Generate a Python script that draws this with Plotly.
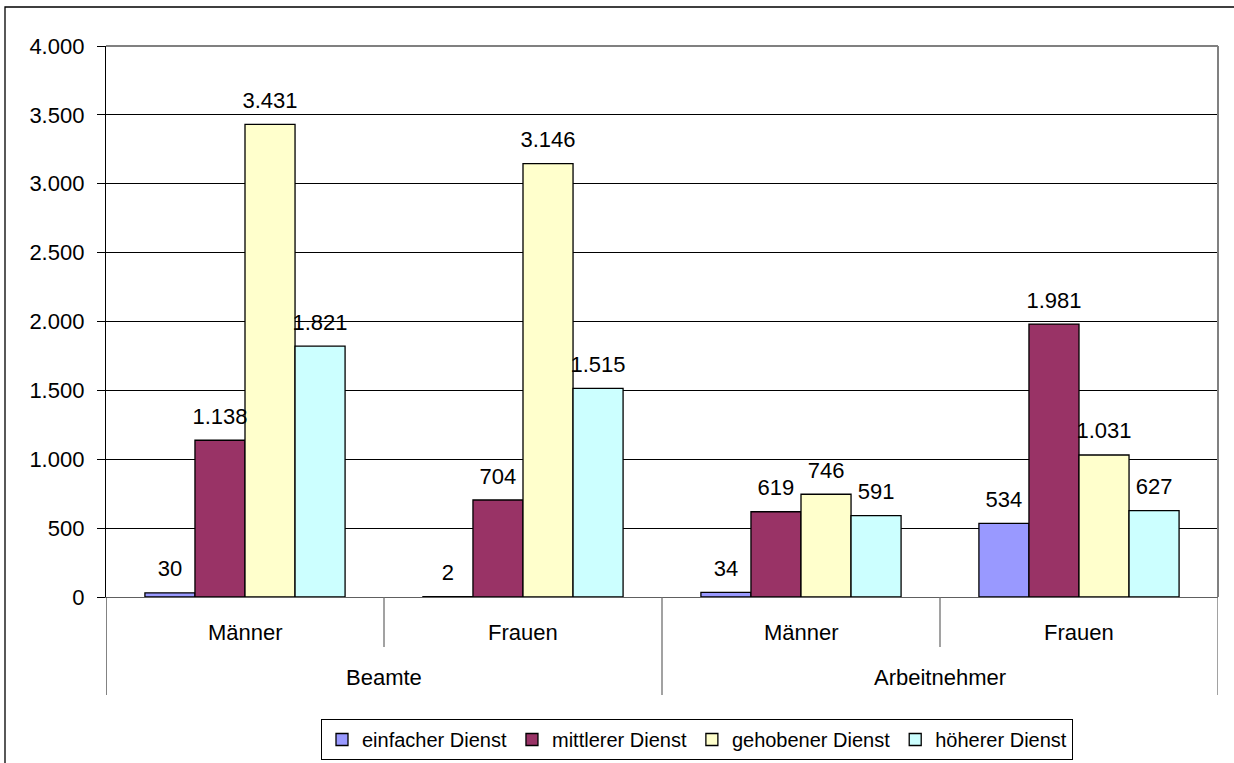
import plotly.graph_objects as go

# Data
inner_labels = ["Männer", "Frauen", "Männer", "Frauen"]
group_labels = ["Beamte", "Arbeitnehmer"]
series_names = ["einfacher Dienst", "mittlerer Dienst", "gehobener Dienst", "höherer Dienst"]
einfacher = [30, 2, 34, 534]
mittlerer = [1138, 704, 619, 1981]
gehobener = [3431, 3146, 746, 1031]
hoeherer = [1821, 1515, 591, 627]
colors = ["#9999FF", "#993366", "#FFFFCC", "#CCFFFF"]
y_ticks = [0, 500, 1000, 1500, 2000, 2500, 3000, 3500, 4000]

series = [einfacher, mittlerer, gehobener, hoeherer]
xpos = list(range(len(inner_labels)))
FONT = "Arial, Liberation Sans, sans-serif"
FS = 22

W, H = 1234, 763
L, T = 106, 46
pw, ph = 1112, 551
R = W - L - pw
B = H - T - ph

def py(pix):
    return (T + ph - pix) / ph

def px(pix):
    return (pix - L) / pw

fig = go.Figure()
for name, vals, col in zip(series_names, series, colors):
    fig.add_trace(go.Bar(
        x=xpos, y=vals, name=name,
        marker=dict(color=col, line=dict(color="black", width=1.3)),
        offsetgroup=name,
    ))
for name, vals in zip(series_names, series):
    fig.add_trace(go.Scatter(
        x=xpos, y=vals, mode="markers+text", showlegend=False,
        text=[f"{v:,}".replace(",", ".") for v in vals],
        textposition="top center",
        textfont=dict(size=FS, color="black", family=FONT),
        marker=dict(size=16, opacity=0),
        offsetgroup=name, hoverinfo="skip", cliponaxis=False,
    ))

shapes = []
# outer chart border
shapes.append(dict(type="rect", xref="paper", yref="paper",
                   x0=px(5), x1=px(1260), y0=py(790), y1=py(7),
                   line=dict(color="black", width=1.3), layer="below"))
# plot area top/right border
shapes.append(dict(type="line", xref="paper", yref="paper", x0=0, x1=1, y0=1, y1=1,
                   line=dict(color="#808080", width=2)))
shapes.append(dict(type="line", xref="paper", yref="paper", x0=1, x1=1, y0=0, y1=1,
                   line=dict(color="#808080", width=2)))
# category separators
for i in range(len(inner_labels) + 1):
    xb = i - 0.5
    long = (i % 2 == 0)
    shapes.append(dict(type="line", xref="x", yref="paper", x0=xb, x1=xb,
                       y0=0, y1=py(695 if long else 647),
                       line=dict(color="#707070" if i > 0 else "#404040", width=1.3)))

annotations = []
for i, lab in enumerate(inner_labels):
    annotations.append(dict(x=i, y=py(632), xref="x", yref="paper", text=lab,
                            yanchor="middle", xanchor="center",
                            showarrow=False, font=dict(size=FS, family=FONT, color="black")))
for g, lab in enumerate(group_labels):
    annotations.append(dict(x=2 * g + 0.5, y=py(677), xref="x", yref="paper", text=lab,
                            yanchor="middle", xanchor="center",
                            showarrow=False, font=dict(size=FS, family=FONT, color="black")))

fig.update_layout(
    width=W, height=H,
    margin=dict(l=L, r=R, t=T, b=B, autoexpand=False),
    plot_bgcolor="white", paper_bgcolor="white",
    font=dict(family=FONT, size=FS, color="black"),
    separators=",.",
    barmode="group", bargap=0.28, bargroupgap=0,
    scattermode="group", scattergap=0.28,
    xaxis=dict(range=[-0.5, 3.5], showticklabels=False, showgrid=False, zeroline=False,
               showline=True, linecolor="#606060", linewidth=1.3, ticks=""),
    yaxis=dict(range=[0, 4000], tickvals=y_ticks, tickformat=",d",
               showgrid=True, gridcolor="black", gridwidth=1,
               zeroline=False, showline=True, linecolor="black", linewidth=1.3,
               ticks="outside", ticklen=8, tickcolor="black", ticklabelstandoff=8,
               tickfont=dict(size=FS, family=FONT, color="black")),
    legend=dict(orientation="h", x=px(697), xanchor="center", y=py(719), yanchor="top",
                bordercolor="black", borderwidth=1, font=dict(size=20, family=FONT),
                itemwidth=30, traceorder="normal", tracegroupgap=0, itemclick=False),
    shapes=shapes, annotations=annotations,
    showlegend=True,
)

fig.write_html("out.html", config={"displayModeBar": False},
               post_script="document.body.style.margin='0';document.body.style.overflow='hidden';")
